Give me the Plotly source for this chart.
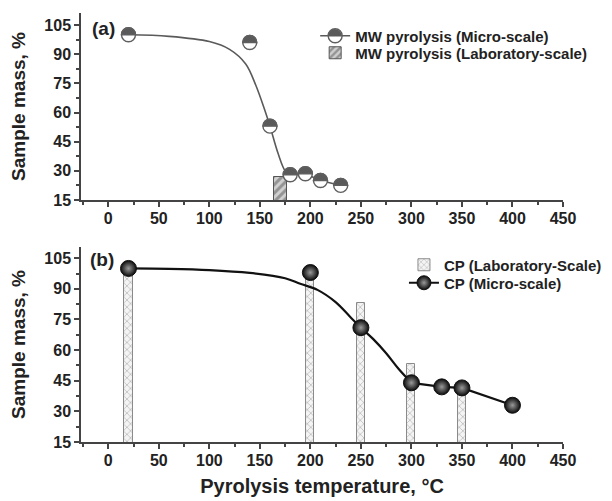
import plotly.graph_objects as go

# ---------------- data ----------------
# Panel (a): MW pyrolysis
mw_temp = [20, 140, 160, 180, 195, 210, 230]
mw_mass = [100, 96, 53, 28, 28.5, 25, 22.5]
mw_lab_temp = [170]
mw_lab_mass = [27]
mw_fit_temp = [20, 60, 100, 120, 136, 146, 155, 160, 168, 175, 180]
mw_fit_mass = [100, 99.2, 96.5, 92.5, 85, 74, 61, 53, 39, 30, 28]

# Panel (b): CP
cp_temp = [20, 200, 250, 300, 330, 350, 400]
cp_mass = [100, 98, 71, 44, 42, 41.5, 33]
cp_lab_temp = [20, 200, 250, 300, 350]
cp_lab_mass = [100, 96, 83, 53, 40]
cp_fit_temp = [20, 60, 100, 140, 175, 190, 207, 225, 239, 250, 262, 275, 287, 300]
cp_fit_mass = [100, 99.8, 99.2, 97.8, 95.2, 92.5, 89.5, 83.5, 76.5, 71, 65.5, 58.5, 51, 44]

x_ticks = [0, 50, 100, 150, 200, 250, 300, 350, 400, 450]
y_ticks = [15, 30, 45, 60, 75, 90, 105]

# ---------------- styles ----------------
FONT = "Liberation Sans"
TXT = "#222222"
AX = "#444444"
GREY = "#5a5a5a"
OUT = "#5f5f5f"

# the page body has an 8px margin, so the figure is placed at (8, 8) on screen
OFF = 8
W, H = 612 - OFF, 501 - OFF
ML, MR, MT, MB = 81 - OFF, 37, 13 - OFF, 59
PW, PH = W - ML - MR, H - MT - MB


def px_x(s):  # screen px -> paper x
    return (s - OFF - ML) / PW


def px_y(s):  # screen px -> paper y
    return (H - MB - (s - OFF)) / PH


def ydom(top_s, bot_s):
    return [px_y(bot_s), px_y(top_s)]


fig = go.Figure()

# ---- panel (a) ----
fig.add_trace(go.Scatter(x=mw_fit_temp, y=mw_fit_mass, mode="lines",
                         line=dict(color=GREY, width=1.6, shape="spline", smoothing=1.0),
                         showlegend=False, hoverinfo="skip", xaxis="x", yaxis="y"))
fig.add_trace(go.Scatter(x=mw_temp[3:], y=mw_mass[3:], mode="lines",
                         line=dict(color=GREY, width=1.6),
                         showlegend=False, hoverinfo="skip", xaxis="x", yaxis="y"))
fig.add_trace(go.Scatter(x=mw_temp, y=mw_mass, mode="markers",
                         marker=dict(symbol="circle", size=14, color="white",
                                     line=dict(color=OUT, width=1.4)),
                         showlegend=False, xaxis="x", yaxis="y"))
fig.add_trace(go.Scatter(x=[None], y=[None], mode="lines+markers",
                         name="MW pyrolysis (Micro-scale)",
                         line=dict(color=GREY, width=1.6),
                         marker=dict(symbol="circle", size=14, color="rgba(0,0,0,0)",
                                     line=dict(color=OUT, width=1.4)),
                         legend="legend", xaxis="x", yaxis="y"))
fig.add_trace(go.Bar(x=mw_lab_temp, y=mw_lab_mass, width=13,
                     name="MW pyrolysis (Laboratory-scale)",
                     marker=dict(color="#d0d0d0", line=dict(color="#555555", width=1),
                                 pattern=dict(shape="/", fgcolor="#555555", bgcolor="#d0d0d0",
                                              size=6, solidity=0.5)),
                     legend="legend2", xaxis="x", yaxis="y"))

# ---- panel (b) ----
fig.add_trace(go.Bar(x=cp_lab_temp, y=cp_lab_mass, width=8,
                     name="CP (Laboratory-Scale)",
                     marker=dict(color="white", line=dict(color="#8a8a8a", width=1),
                                 pattern=dict(shape="x", fgcolor="#8a8a8a", bgcolor="#f4f4f4",
                                              size=5, solidity=0.3)),
                     legend="legend3", xaxis="x2", yaxis="y2"))
fig.add_trace(go.Scatter(x=cp_fit_temp, y=cp_fit_mass, mode="lines",
                         line=dict(color="#111111", width=2.2, shape="spline", smoothing=1.0),
                         showlegend=False, hoverinfo="skip", xaxis="x2", yaxis="y2"))
fig.add_trace(go.Scatter(x=cp_temp[3:], y=cp_mass[3:], mode="lines",
                         line=dict(color="#111111", width=2.2),
                         showlegend=False, hoverinfo="skip", xaxis="x2", yaxis="y2"))
fig.add_trace(go.Scatter(x=cp_temp, y=cp_mass, mode="markers",
                         marker=dict(symbol="circle", size=16, color="#0a0a0a",
                                     gradient=dict(type="radial", color="#9a9a9a"),
                                     line=dict(color="#111111", width=1)),
                         showlegend=False, xaxis="x2", yaxis="y2"))
fig.add_trace(go.Scatter(x=[None], y=[None], mode="lines+markers",
                         name="CP (Micro-scale)",
                         line=dict(color="#111111", width=2.2),
                         marker=dict(symbol="circle", size=14, color="#0a0a0a",
                                     gradient=dict(type="radial", color="#9a9a9a"),
                                     line=dict(color="#111111", width=1)),
                         legend="legend4", xaxis="x2", yaxis="y2"))

# ---- half-filled tops for the MW markers (pixel-sized shapes anchored to data) ----
r = 7.0
k = 0.5523 * r
half_path = f"M {-r},0 C {-r},{k} {-k},{r} 0,{r} C {k},{r} {r},{k} {r},0 Z"
shapes = []
for t, m in zip(mw_temp, mw_mass):
    shapes.append(dict(type="path", xref="x", yref="y", xsizemode="pixel", ysizemode="pixel",
                       xanchor=t, yanchor=m, path=half_path, fillcolor=GREY,
                       line=dict(color=OUT, width=1.4), layer="above"))

# legend symbol of (a): white disc + dark upper half under the legend's outline
LEG_A_X, LEG_A_Y1, LEG_A_Y2 = 321, 36, 53
sym_x = px_x(LEG_A_X + 20)
sym_y = px_y(LEG_A_Y1)
shapes.append(dict(type="circle", xref="paper", yref="paper", xsizemode="pixel", ysizemode="pixel",
                   xanchor=sym_x, yanchor=sym_y, x0=-r, x1=r, y0=-r, y1=r,
                   fillcolor="white", line=dict(width=0), layer="above"))
shapes.append(dict(type="path", xref="paper", yref="paper", xsizemode="pixel", ysizemode="pixel",
                   xanchor=sym_x, yanchor=sym_y, path=half_path, fillcolor=GREY,
                   line=dict(width=0), layer="above"))

axis_common = dict(showline=True, linecolor=AX, linewidth=1.5, ticks="outside",
                   ticklen=5, tickwidth=1.5, tickcolor=AX, showgrid=False, zeroline=False,
                   tickfont=dict(family=FONT, size=16, color=TXT, weight="bold"),
                   mirror=False)
title_font = dict(family=FONT, size=19, color=TXT, weight="bold")
xtitle_font = dict(family=FONT, size=20, color=TXT, weight="bold")
leg_font = dict(family=FONT, size=15, color=TXT, weight="bold")


def leg(xs, ys):
    return dict(x=px_x(xs), y=px_y(ys), xanchor="left", yanchor="middle",
                bgcolor="rgba(0,0,0,0)", font=leg_font, itemwidth=30)


x_minor = dict(dtick=25, tick0=0, ticklen=3, tickwidth=1.5, tickcolor=AX, ticks="outside")
y_minor = dict(dtick=7.5, tick0=15, ticklen=3, tickwidth=1.5, tickcolor=AX, ticks="outside")

fig.update_layout(
    width=W, height=H, margin=dict(l=ML, r=MR, t=MT, b=MB),
    paper_bgcolor="white", plot_bgcolor="white",
    font=dict(family=FONT, color=TXT),
    bargap=0,
    xaxis=dict(domain=[0, 1], range=[-27, 450], anchor="y", tickmode="array", tickvals=x_ticks,
               ticklabelstandoff=-2, minor=x_minor, **axis_common),
    yaxis=dict(domain=ydom(13, 200), range=[15, 111.2], anchor="x", tickmode="array", tickvals=y_ticks,
               minor=y_minor, title=dict(text="Sample mass, %", font=title_font, standoff=15),
               **axis_common),
    xaxis2=dict(domain=[0, 1], range=[-27, 450], anchor="y2", tickmode="array", tickvals=x_ticks,
                ticklabelstandoff=-2, minor=x_minor,
                title=dict(text="Pyrolysis temperature, °C", font=xtitle_font, standoff=11),
                **axis_common),
    yaxis2=dict(domain=ydom(247, 442), range=[15, 110.5], anchor="x2", tickmode="array", tickvals=y_ticks,
                minor=y_minor, title=dict(text="Sample mass, %", font=title_font, standoff=15),
                **axis_common),
    legend=leg(LEG_A_X, LEG_A_Y1),
    legend2=leg(LEG_A_X, LEG_A_Y2),
    legend3=leg(412, 265),
    legend4=leg(412, 283),
    shapes=shapes,
    annotations=[
        dict(text="(a)", xref="paper", yref="paper", x=px_x(90), y=px_y(28),
             xanchor="left", yanchor="middle", showarrow=False, font=title_font),
        dict(text="(b)", xref="paper", yref="paper", x=px_x(88), y=px_y(260),
             xanchor="left", yanchor="middle", showarrow=False, font=title_font),
    ],
)

fig.write_html("out.html")
